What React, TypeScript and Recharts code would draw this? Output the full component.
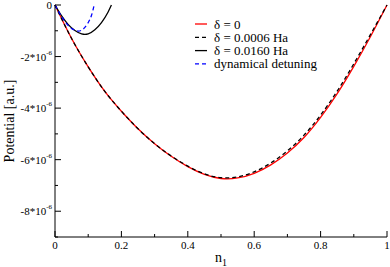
import { LineChart, Line, XAxis, YAxis, Label } from "recharts";

// values in units of 1e-6 a.u.
const bigN = [0, 0.05, 0.1, 0.15, 0.2, 0.25, 0.3, 0.35, 0.4, 0.45, 0.5, 0.55, 0.6, 0.65, 0.7, 0.75, 0.8, 0.85, 0.9, 0.95, 1];
const delta0 = [0, -1.3, -2.4, -3.35, -4.12, -4.8, -5.38, -5.87, -6.27, -6.57, -6.73, -6.71, -6.53, -6.2, -5.74, -5.14, -4.36, -3.44, -2.38, -1.23, 0];
const delta0006 = [0, -1.3, -2.4, -3.35, -4.12, -4.8, -5.38, -5.86, -6.25, -6.55, -6.7, -6.67, -6.47, -6.13, -5.66, -5.05, -4.27, -3.34, -2.28, -1.15, 0];

const smallN = [0, 0.02, 0.04, 0.06, 0.08, 0.09, 0.1, 0.12, 0.14, 0.16, 0.17];
const delta016 = [0, -0.42, -0.76, -0.99, -1.12, -1.14, -1.12, -0.96, -0.68, -0.27, 0];

const dynN = [0, 0.02, 0.04, 0.06, 0.07, 0.08, 0.09, 0.1, 0.11, 0.118];
const dynamical = [0, -0.45, -0.8, -0.98, -1.01, -0.98, -0.87, -0.68, -0.4, 0];

const xTicks = [0, 0.1, 0.2, 0.3, 0.4, 0.5, 0.6, 0.7, 0.8, 0.9, 1];
const xLabels: Record<string, string> = { "0": "0", "0.2": "0.2", "0.4": "0.4", "0.6": "0.6", "0.8": "0.8", "1": "1" };
const yTicks = [0, -1, -2, -3, -4, -5, -6, -7, -8, -9];
const yLabels: Record<string, string> = { "0": "0", "-2": "-2*10", "-4": "-4*10", "-6": "-6*10", "-8": "-8*10" };

const legendItems = [
  { name: "δ = 0", color: "#ff0000", dash: undefined },
  { name: "δ = 0.0006 Ha", color: "#000000", dash: "4 3" },
  { name: "δ = 0.0160 Ha", color: "#000000", dash: undefined },
  { name: "dynamical detuning", color: "#0000ff", dash: "4 3" },
];

const zip = (ns: number[], vs: number[]) => ns.map((n, i) => ({ n, v: vs[i] }));

const serif = { fontFamily: '"Liberation Serif", "Times New Roman", serif' };

function BottomTick({ x, y, payload }: any) {
  const key = String(payload.value);
  const major = key in xLabels;
  return (
    <g>
      <line x1={x} x2={x} y1={y} y2={y - (major ? 6 : 3)} stroke="#000" />
      {major && (
        <text x={x} y={y + 12} textAnchor="middle" fontSize={11} style={serif} fill="#000">
          {xLabels[key]}
        </text>
      )}
    </g>
  );
}

function TopTick({ x, y, payload }: any) {
  const major = String(payload.value) in xLabels;
  return <line x1={x} x2={x} y1={y} y2={y + (major ? 6 : 3)} stroke="#000" />;
}

function LeftTick({ x, y, payload }: any) {
  const key = String(payload.value);
  const major = key in yLabels;
  return (
    <g>
      <line x1={x} x2={x + (major ? 6 : 3)} y1={y} y2={y} stroke="#000" />
      {major && (
        <text x={x - 3} y={y + 4} textAnchor="end" fontSize={11} style={serif} fill="#000">
          {yLabels[key]}
          {key !== "0" && (
            <tspan dy={-6} fontSize={7}>
              -6
            </tspan>
          )}
        </text>
      )}
    </g>
  );
}

function RightTick({ x, y, payload }: any) {
  const major = String(payload.value) in yLabels;
  return <line x1={x} x2={x - (major ? 6 : 3)} y1={y} y2={y} stroke="#000" />;
}

function Legend() {
  return (
    <g>
      {legendItems.map((it, i) => (
        <g key={it.name}>
          <line x1={195} x2={207} y1={24 + i * 13.3} y2={24 + i * 13.3} stroke={it.color} strokeWidth={1.3} strokeDasharray={it.dash} />
          <text x={214} y={28.5 + i * 13.3} fontSize={13} style={serif} fill="#000">
            {it.name}
          </text>
        </g>
      ))}
    </g>
  );
}

export default function App() {
  return (
    <div style={{ position: "fixed", left: 0, top: 0, background: "#fff" }}>
      <LineChart width={390} height={267} margin={{ top: 5, right: 3, left: 0, bottom: 0 }}>
        <XAxis
          xAxisId={0}
          type="number"
          dataKey="n"
          domain={[0, 1]}
          ticks={xTicks}
          interval={0}
          height={30}
          tickSize={0}
          tickMargin={0}
          tickLine={false}
          axisLine={{ stroke: "#000" }}
          tick={<BottomTick />}
        >
          <Label
            content={({ viewBox }: any) => (
              <text x={viewBox.x + viewBox.width / 2} y={viewBox.y + 25} textAnchor="middle" fontSize={14} style={serif} fill="#000">
                n<tspan dy={4} fontSize={10}>1</tspan>
              </text>
            )}
          />
        </XAxis>
        <XAxis
          xAxisId="top"
          orientation="top"
          type="number"
          dataKey="n"
          domain={[0, 1]}
          ticks={xTicks}
          interval={0}
          height={0}
          tickSize={0}
          tickMargin={0}
          tickLine={false}
          axisLine={{ stroke: "#000" }}
          tick={<TopTick />}
        />
        <YAxis
          yAxisId={0}
          type="number"
          domain={[-9, 0]}
          ticks={yTicks}
          interval={0}
          width={55}
          tickSize={0}
          tickMargin={0}
          tickLine={false}
          axisLine={{ stroke: "#000" }}
          tick={<LeftTick />}
        >
          <Label
            content={({ viewBox }: any) => {
              const cx = viewBox.x + 9;
              const cy = viewBox.y + viewBox.height / 2;
              return (
                <text x={cx} y={cy} transform={`rotate(-90 ${cx} ${cy})`} textAnchor="middle" dominantBaseline="central" fontSize={14} style={serif} fill="#000">
                  Potential [a.u.]
                </text>
              );
            }}
          />
        </YAxis>
        <YAxis
          yAxisId="right"
          orientation="right"
          type="number"
          domain={[-9, 0]}
          ticks={yTicks}
          interval={0}
          width={0}
          tickSize={0}
          tickMargin={0}
          tickLine={false}
          axisLine={{ stroke: "#000" }}
          tick={<RightTick />}
        />
        <Line data={zip(bigN, delta0)} dataKey="v" type="natural" stroke="#ff0000" strokeWidth={1.3} dot={false} isAnimationActive={false} />
        <Line data={zip(bigN, delta0006)} dataKey="v" type="natural" stroke="#000" strokeWidth={1.3} strokeDasharray="4 3" dot={false} isAnimationActive={false} />
        <Line data={zip(smallN, delta016)} dataKey="v" type="monotone" stroke="#000" strokeWidth={1.3} dot={false} isAnimationActive={false} />
        <Line data={zip(dynN, dynamical)} dataKey="v" type="monotone" stroke="#0000ff" strokeWidth={1.3} strokeDasharray="4 3" dot={false} isAnimationActive={false} />
        <Legend />
      </LineChart>
    </div>
  );
}
